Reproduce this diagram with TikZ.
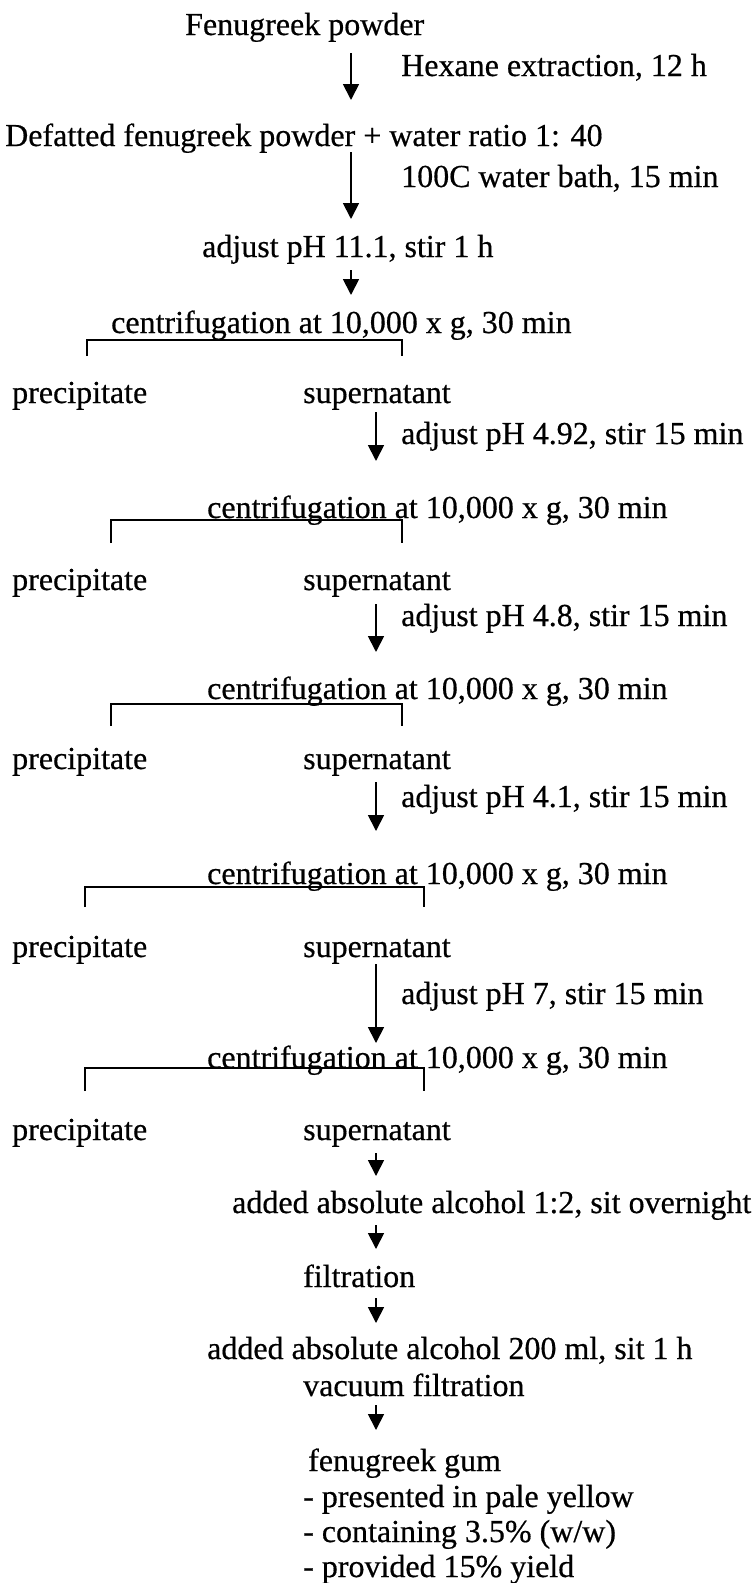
\documentclass[tikz,border=0pt]{standalone}
\usepackage{fontspec}
\setmainfont{Liberation Serif}[FakeBold=0.5]
\usetikzlibrary{arrows.meta}
\begin{document}
\begin{tikzpicture}[x=1pt,y=-1pt,
  lbl/.style={anchor=base west, inner sep=0pt, font=\fontsize{32}{37}\selectfont},
  arr/.style={line width=1.8pt, -{Triangle[length=16pt,width=16pt]}},
  brk/.style={line width=1.5pt}]
\useasboundingbox (0,0) rectangle (754,1583);

% --- step labels ---
\node[lbl] (fp)    at (185,35)   {Fenugreek powder};
\node[lbl] (hex)   at (401,76)   {Hexane extraction, 12 h};
\node[lbl] (dfp)   at (5,146)    {Defatted fenugreek powder + water ratio 1: 40};
\node[lbl] (wb)    at (401,187)  {100C water bath, 15 min};
\node[lbl] (ph1)   at (202,257)  {adjust pH 11.1, stir 1 h};
\node[lbl] (c1)    at (111,333)  {centrifugation at 10,000 x g, 30 min};
\node[lbl] (p1)    at (12,403)   {precipitate};
\node[lbl] (s1)    at (303,403)  {supernatant};
\node[lbl] (ph2)   at (401,444)  {adjust pH 4.92, stir 15 min};
\node[lbl] (c2)    at (207,518)  {centrifugation at 10,000 x g, 30 min};
\node[lbl] (p2)    at (12,590)   {precipitate};
\node[lbl] (s2)    at (303,590)  {supernatant};
\node[lbl] (ph3)   at (401,626)  {adjust pH 4.8, stir 15 min};
\node[lbl] (c3)    at (207,699)  {centrifugation at 10,000 x g, 30 min};
\node[lbl] (p3)    at (12,769)   {precipitate};
\node[lbl] (s3)    at (303,769)  {supernatant};
\node[lbl] (ph4)   at (401,807)  {adjust pH 4.1, stir 15 min};
\node[lbl] (c4)    at (207,884)  {centrifugation at 10,000 x g, 30 min};
\node[lbl] (p4)    at (12,957)   {precipitate};
\node[lbl] (s4)    at (303,957)  {supernatant};
\node[lbl] (ph5)   at (401,1004) {adjust pH 7, stir 15 min};
\node[lbl] (c5)    at (207,1068) {centrifugation at 10,000 x g, 30 min};
\node[lbl] (p5)    at (12,1140)  {precipitate};
\node[lbl] (s5)    at (303,1140) {supernatant};
\node[lbl] (alc1)  at (232,1213) {added absolute alcohol 1:2, sit overnight};
\node[lbl] (filt)  at (303,1287) {filtration};
\node[lbl] (alc2)  at (207,1359) {added absolute alcohol 200 ml, sit 1 h};
\node[lbl] (vac)   at (303,1396) {vacuum filtration};
\node[lbl] (gum)   at (308,1471) {fenugreek gum};
\node[lbl] (gum1)  at (303,1507) {- presented in pale yellow};
\node[lbl] (gum2)  at (303,1542) {- containing 3.5\% (w/w)};
\node[lbl] (gum3)  at (303,1577) {- provided 15\% yield};

% --- arrow end points ---
\coordinate (a1s) at (351,53);    \coordinate (a1e) at (351,100);
\coordinate (a2s) at (351,152);   \coordinate (a2e) at (351,219);
\coordinate (a3s) at (351,270);   \coordinate (a3e) at (351,295);
\coordinate (a4s) at (376,412);   \coordinate (a4e) at (376,461);
\coordinate (a5s) at (376,604);   \coordinate (a5e) at (376,652);
\coordinate (a6s) at (376,782);   \coordinate (a6e) at (376,831);
\coordinate (a7s) at (376,964);   \coordinate (a7e) at (376,1043);
\coordinate (a8s) at (376,1153);  \coordinate (a8e) at (376,1176);
\coordinate (a9s) at (376,1225);  \coordinate (a9e) at (376,1249);
\coordinate (a10s) at (376,1298); \coordinate (a10e) at (376,1323);
\coordinate (a11s) at (376,1405); \coordinate (a11e) at (376,1430);

\foreach \i in {1,...,11} \draw[arr] (a\i s) -- (a\i e);

% --- separation brackets ---
\coordinate (b1l) at (87,356);   \coordinate (b1t) at (87,340);   \coordinate (b1r) at (402,356);
\coordinate (b2l) at (111,543);  \coordinate (b2t) at (111,520);  \coordinate (b2r) at (402,543);
\coordinate (b3l) at (111,726);  \coordinate (b3t) at (111,704);  \coordinate (b3r) at (402,726);
\coordinate (b4l) at (85,907);   \coordinate (b4t) at (85,887);   \coordinate (b4r) at (424,907);
\coordinate (b5l) at (85,1091);  \coordinate (b5t) at (85,1068);  \coordinate (b5r) at (424,1091);

\foreach \i in {1,...,5} \draw[brk] (b\i l) -- (b\i t) -| (b\i r);
\end{tikzpicture}
\end{document}
